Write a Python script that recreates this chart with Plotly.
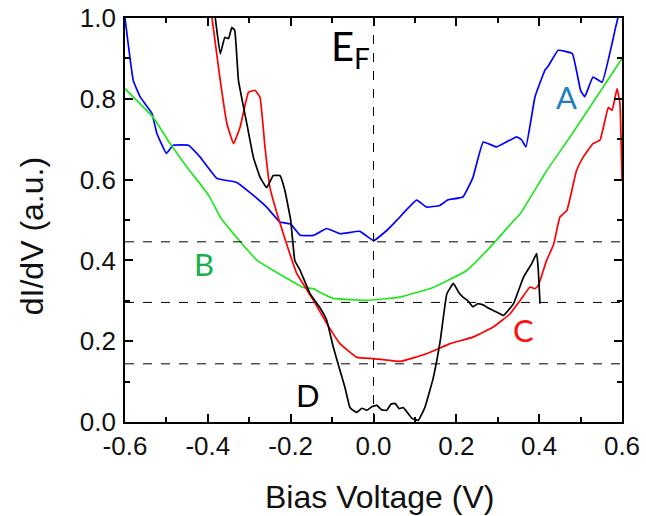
import plotly.graph_objects as go

# Curve A (blue)
a_x = [-0.6, -0.58, -0.563, -0.535, -0.523, -0.5, -0.484, -0.447, -0.418, -0.378, -0.33, -0.29, -0.258,
       -0.226, -0.2, -0.177, -0.145, -0.13, -0.113, -0.08, -0.033, 0.0, 0.032, 0.056, 0.104, 0.128, 0.16,
       0.18, 0.216, 0.24, 0.265, 0.297, 0.346, 0.358, 0.368, 0.39, 0.414, 0.422, 0.446, 0.48, 0.5, 0.51,
       0.53, 0.552, 0.576, 0.583, 0.59]
a_y = [1.0, 0.845, 0.804, 0.764, 0.714, 0.665, 0.685, 0.685, 0.655, 0.603, 0.593, 0.561, 0.532,
       0.495, 0.49, 0.462, 0.462, 0.47, 0.479, 0.466, 0.472, 0.449, 0.474, 0.499, 0.549, 0.532, 0.536,
       0.55, 0.557, 0.605, 0.693, 0.681, 0.706, 0.698, 0.681, 0.805, 0.871, 0.881, 0.92, 0.912, 0.821, 0.805,
       0.854, 0.841, 0.937, 0.97, 1.0]

# Curve B (green)
b_x = [-0.6, -0.532, -0.491, -0.45, -0.419, -0.395, -0.37, -0.338, -0.314, -0.281, -0.242, -0.2, -0.17,
       -0.145, -0.13, -0.097, -0.016, 0.064, 0.144, 0.225, 0.289, 0.338, 0.354, 0.418, 0.474, 0.539, 0.6]
b_y = [0.825, 0.754, 0.689, 0.63, 0.59, 0.556, 0.507, 0.466, 0.437, 0.4, 0.375, 0.35, 0.333,
       0.33, 0.321, 0.306, 0.301, 0.309, 0.333, 0.375, 0.441, 0.498, 0.515, 0.622, 0.705, 0.805, 0.9]

# Curve C (red)
c_x = [-0.39, -0.37, -0.354, -0.338, -0.322, -0.302, -0.286, -0.274, -0.262, -0.25, -0.233, -0.21, -0.185,
       -0.145, -0.113, -0.081, -0.04, 0.0, 0.064, 0.128, 0.185, 0.24, 0.289, 0.33, 0.354, 0.378, 0.39, 0.398,
       0.418, 0.435, 0.45, 0.467, 0.49, 0.506, 0.53, 0.547, 0.567, 0.576, 0.588, 0.595, 0.6]
c_y = [1.0, 0.845, 0.739, 0.689, 0.73, 0.816, 0.821, 0.804, 0.68, 0.58, 0.516, 0.441, 0.367,
       0.301, 0.244, 0.194, 0.16, 0.157, 0.15, 0.169, 0.194, 0.21, 0.235, 0.268, 0.301, 0.334, 0.33, 0.338,
       0.4, 0.44, 0.507, 0.524, 0.622, 0.655, 0.689, 0.698, 0.779, 0.771, 0.825, 0.789, 0.6]

# Curve D (black)
d_x = [-0.382, -0.37, -0.359, -0.35, -0.342, -0.335, -0.326, -0.306, -0.29, -0.274, -0.258, -0.242, -0.226,
       -0.214, -0.2, -0.19, -0.177, -0.153, -0.13, -0.113, -0.097, -0.081, -0.069, -0.057, -0.048, -0.04,
       -0.028, -0.016, -0.004, 0.008, 0.02, 0.032, 0.042, 0.052, 0.062, 0.072, 0.083, 0.093, 0.108, 0.124,
       0.144, 0.161, 0.177, 0.193, 0.205, 0.216, 0.228, 0.24, 0.252, 0.265, 0.277, 0.289, 0.302, 0.314,
       0.338, 0.362, 0.382, 0.394, 0.398, 0.402]
d_y = [1.0, 0.911, 0.952, 0.949, 0.977, 0.969, 0.845, 0.739, 0.655, 0.606, 0.58, 0.61, 0.61,
       0.573, 0.5, 0.4, 0.375, 0.317, 0.284, 0.252, 0.185, 0.128, 0.086, 0.036, 0.028, 0.024,
       0.034, 0.029, 0.038, 0.041, 0.03, 0.029, 0.044, 0.046, 0.033, 0.036, 0.022, 0.009, 0.004, 0.036,
       0.108, 0.2, 0.317, 0.343, 0.322, 0.309, 0.3, 0.285, 0.293, 0.29, 0.282, 0.276, 0.27, 0.264,
       0.293, 0.358, 0.392, 0.417, 0.375, 0.293]

# Reference levels
h_levels = [0.446, 0.296, 0.144]

# Axis ranges and ticks
x_range = [-0.6, 0.6]
y_range = [0.0, 1.0]
x_ticks = [-0.6, -0.4, -0.2, 0.0, 0.2, 0.4, 0.6]
x_ticktext = ["-0.6", "-0.4", "-0.2", "0.0", "0.2", "0.4", "0.6"]
y_ticks = [0.0, 0.2, 0.4, 0.6, 0.8, 1.0]
y_ticktext = ["0.0", "0.2", "0.4", "0.6", "0.8", "1.0"]

# Labels
labels = ["A", "B", "C", "D"]
label_x = [0.465, -0.409, 0.361, -0.158]
label_y = [0.805, 0.39, 0.227, 0.066]
label_colors = ["#1f7fc2", "#19b04c", "#ff1010", "#000000"]

font = "Arial"
lfont = "Lato"

W, H = 646, 516
ML, MR, MT, MB = 125, 24, 18, 94
pw, ph = W - ML - MR, H - MT - MB
fw = 2  # frame thickness in pixels

fig = go.Figure()
for xs, ys, col in [(a_x, a_y, "#0000ff"), (b_x, b_y, "#22e622"), (c_x, c_y, "#ff0000"), (d_x, d_y, "#000000")]:
    fig.add_trace(go.Scatter(x=xs, y=ys, mode="lines", line=dict(color=col, width=1.7, shape="spline", smoothing=0.3),
                             showlegend=False, hoverinfo="skip"))

# frame: a filled black rectangle under a filled white plot area
fig.add_shape(type="rect", xref="paper", yref="paper", layer="below",
              x0=-fw / pw, x1=1 + fw / pw, y0=-fw / ph, y1=1 + fw / ph,
              fillcolor="black", line=dict(width=0))
fig.add_shape(type="rect", xref="paper", yref="paper", layer="below",
              x0=0, x1=1, y0=0, y1=1, fillcolor="white", line=dict(width=0))

for lv in h_levels:
    fig.add_shape(type="line", xref="x", yref="y", x0=x_range[0], x1=x_range[1], y0=lv, y1=lv,
                  line=dict(color="black", width=1, dash="dash"))
fig.add_shape(type="line", xref="x", yref="y", x0=0, x1=0, y0=y_range[0], y1=y_range[1],
              line=dict(color="black", width=1, dash="dash"))

for t, x, y, c in zip(labels, label_x, label_y, label_colors):
    fig.add_annotation(x=x, y=y, text=t, showarrow=False, font=dict(family=lfont, size=31, color=c))
fig.add_annotation(x=-0.108, y=0.995, text="E<sub>F</sub>", showarrow=False, xanchor="left", yanchor="top",
                   font=dict(family=lfont, size=40, color="black"))

# Axis titles
fig.add_annotation(xref="paper", yref="paper", x=0.513, y=-0.186, text="Bias Voltage (V)", showarrow=False,
                   xanchor="center", yanchor="middle", font=dict(family=font, size=32, color="#111"))
fig.add_annotation(xref="paper", yref="paper", x=-0.187, y=0.46, text="dI/dV (a.u.)", showarrow=False,
                   xanchor="center", yanchor="middle", textangle=-90, font=dict(family=font, size=32, color="#111"))

axis_common = dict(showline=False, mirror="allticks", ticks="inside",
                   ticklen=8, tickwidth=1.5, tickcolor="black", showgrid=False, zeroline=False,
                   tickfont=dict(family=font, size=26, color="#111"))

fig.update_xaxes(range=x_range, tickmode="array", tickvals=x_ticks, ticktext=x_ticktext,
                 ticklabelstandoff=6,
                 minor=dict(ticks="inside", ticklen=5, tickwidth=1.5, tickcolor="black",
                            dtick=0.1, tick0=x_range[0], showgrid=False),
                 **axis_common)
fig.update_yaxes(range=y_range, tickmode="array", tickvals=y_ticks, ticktext=y_ticktext,
                 ticklabelstandoff=8,
                 minor=dict(ticks="inside", ticklen=5, tickwidth=1.5, tickcolor="black",
                            dtick=0.1, tick0=y_range[0], showgrid=False),
                 **axis_common)

fig.update_layout(width=W, height=H, margin=dict(l=ML, r=MR, t=MT, b=MB, autoexpand=False),
                  plot_bgcolor="white", paper_bgcolor="white")

fig.write_html("out.html")
